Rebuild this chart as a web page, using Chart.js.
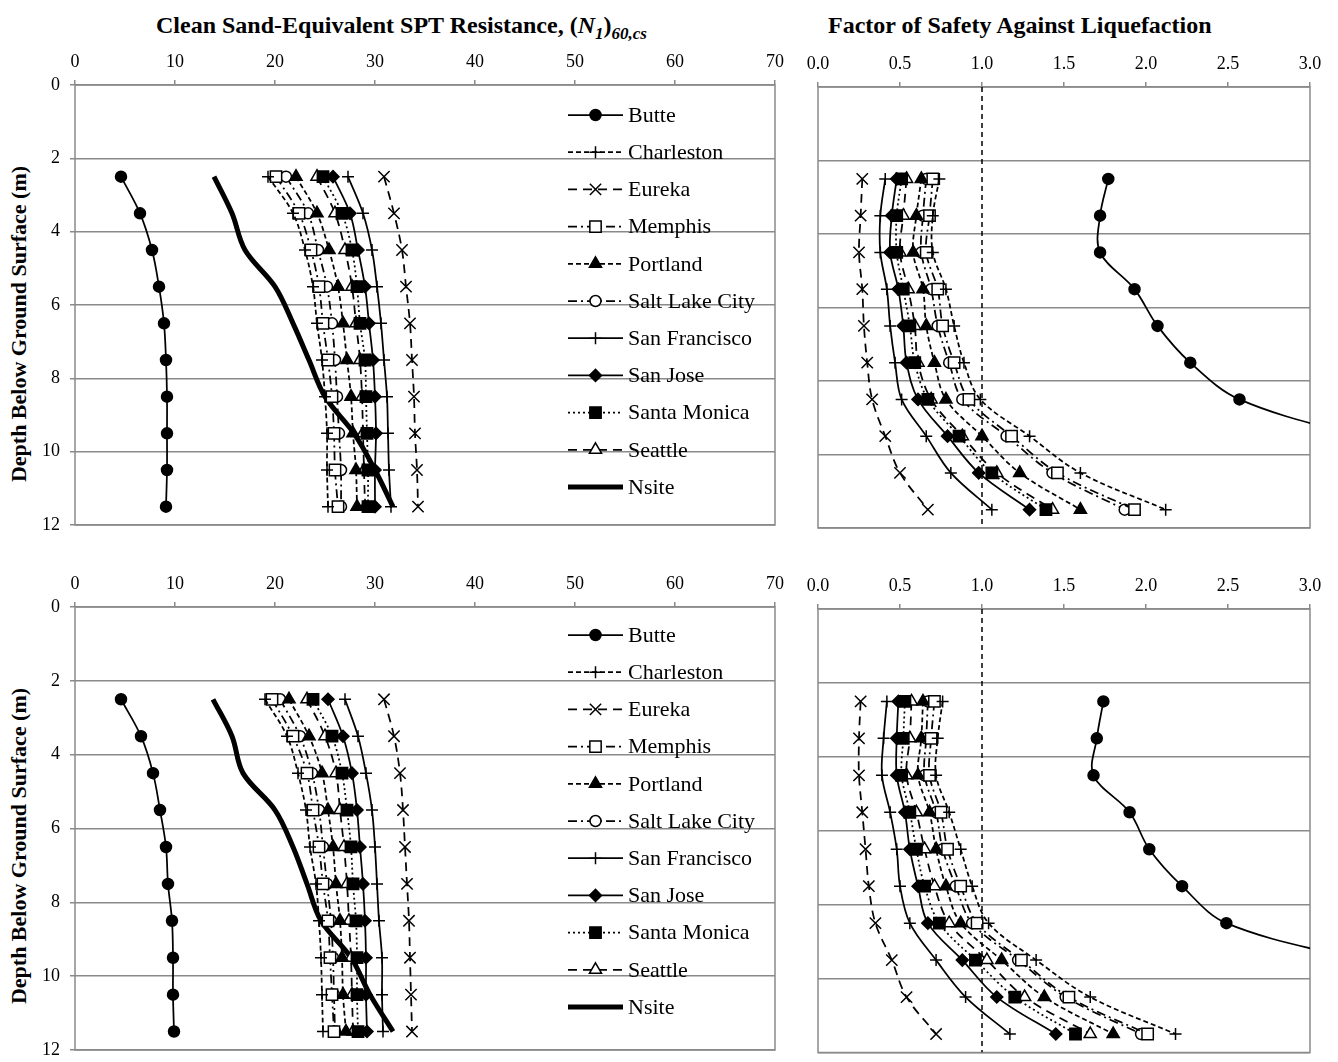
<!DOCTYPE html>
<html><head><meta charset="utf-8">
<script src="https://cdn.jsdelivr.net/npm/chart.js@4/dist/chart.umd.min.js"></script>
<style>
body{margin:0;background:#fff;width:1338px;height:1062px;overflow:hidden;position:relative;font-family:"Liberation Serif","Times New Roman",serif;}
canvas{position:absolute;}
.ttl{position:absolute;font-weight:bold;font-size:24px;white-space:nowrap;color:#000;line-height:28px;}
.ttl sub{font-size:17px;line-height:0;}
.ytl{position:absolute;font-weight:bold;font-size:22px;white-space:nowrap;color:#000;line-height:24px;width:400px;text-align:center;transform:translate(-50%,-50%) rotate(-90deg);}
</style></head><body>
<div class="ttl" style="left:156px;top:11px;">Clean Sand-Equivalent SPT Resistance, (<i>N</i><sub><i>1</i></sub>)<sub><i>60,cs</i></sub></div>
<div class="ttl" style="left:828px;top:11px;">Factor of Safety Against Liquefaction</div>
<div class="ytl" style="left:19px;top:324px;">Depth Below Ground Surface (m)</div>
<div class="ytl" style="left:19px;top:846px;">Depth Below Ground Surface (m)</div>
<canvas id="c1" width="790" height="540" style="left:0;top:0"></canvas>
<canvas id="c2" width="538" height="545" style="left:800px;top:0"></canvas>
<canvas id="c3" width="790" height="522" style="left:0;top:540px"></canvas>
<canvas id="c4" width="538" height="522" style="left:800px;top:540px"></canvas>
<script>
// ---------- DATA ----------
const depths = [2.5, 3.5, 4.5, 5.5, 6.5, 7.5, 8.5, 9.5, 10.5, 11.5];
const cities = ['Butte','Charleston','Eureka','Memphis','Portland','Salt Lake City','San Francisco','San Jose','Santa Monica','Seattle'];
const sptTicks = [0,10,20,30,40,50,60,70];
const fsTicks = [0.0,0.5,1.0,1.5,2.0,2.5,3.0];
const depthTicks = [0,2,4,6,8,10,12];
const fsLimit = [1, 1];
const fsLimitDepth = [0, 12];

// panel a) clean sand-equivalent SPT resistance
const sptA_Butte       = [4.6, 6.5, 7.7, 8.4, 8.9, 9.1, 9.2, 9.2, 9.2, 9.1];
const sptA_Charleston  = [19.3, 21.8, 23.0, 23.8, 24.2, 24.7, 25.0, 25.2, 25.2, 25.3];
const sptA_Eureka      = [30.9, 31.9, 32.7, 33.1, 33.5, 33.7, 33.9, 34.0, 34.2, 34.3];
const sptA_Memphis     = [20.1, 22.4, 23.6, 24.4, 24.8, 25.3, 25.7, 25.9, 26.0, 26.3];
const sptA_Portland    = [22.1, 24.2, 25.4, 26.3, 26.8, 27.2, 27.6, 27.8, 28.1, 28.2];
const sptA_SaltLake    = [21.1, 23.3, 24.3, 25.2, 25.7, 26.0, 26.2, 26.4, 26.6, 26.6];
const sptA_SanFran     = [27.3, 28.8, 29.7, 30.2, 30.6, 30.9, 31.2, 31.3, 31.4, 31.6];
const sptA_SanJose     = [25.8, 27.5, 28.3, 29.0, 29.4, 29.8, 30.0, 30.1, 30.0, 30.0];
const sptA_SantaMonica = [24.8, 26.7, 27.7, 28.2, 28.5, 29.0, 29.1, 29.2, 29.3, 29.3];
const sptA_Seattle     = [24.2, 26.0, 27.0, 27.7, 28.1, 28.5, 28.7, 28.8, 28.9, 29.0];
const sptA_Nsite       = [13.9, 15.7, 17.0, 20.0, 21.8, 23.4, 25.0, 27.9, 30.0, 31.8];

// panel a) factor of safety
const fsA_Butte       = [1.77, 1.72, 1.72, 1.93, 2.07, 2.27, 2.57, 3.3, 4.2, 5.3];
const fsA_Charleston  = [0.74, 0.70, 0.70, 0.78, 0.83, 0.89, 0.99, 1.29, 1.60, 2.12];
const fsA_Eureka      = [0.27, 0.26, 0.25, 0.27, 0.28, 0.30, 0.33, 0.41, 0.50, 0.67];
const fsA_Memphis     = [0.70, 0.68, 0.66, 0.73, 0.76, 0.83, 0.92, 1.18, 1.46, 1.93];
const fsA_Portland    = [0.63, 0.60, 0.58, 0.64, 0.66, 0.71, 0.78, 1.00, 1.23, 1.60];
const fsA_SaltLake    = [0.66, 0.64, 0.63, 0.69, 0.73, 0.80, 0.88, 1.15, 1.43, 1.87];
const fsA_SanFran     = [0.41, 0.38, 0.38, 0.42, 0.44, 0.47, 0.51, 0.66, 0.81, 1.06];
const fsA_SanJose     = [0.48, 0.45, 0.44, 0.49, 0.52, 0.54, 0.61, 0.79, 0.98, 1.29];
const fsA_SantaMonica = [0.51, 0.48, 0.48, 0.52, 0.56, 0.59, 0.67, 0.86, 1.06, 1.39];
const fsA_Seattle     = [0.54, 0.52, 0.50, 0.55, 0.59, 0.61, 0.69, 0.88, 1.09, 1.43];

// panel b) clean sand-equivalent SPT resistance
const sptB_Butte       = [4.6, 6.6, 7.8, 8.5, 9.1, 9.3, 9.7, 9.8, 9.8, 9.9];
const sptB_Charleston  = [19.0, 21.2, 22.3, 23.1, 23.5, 24.1, 24.4, 24.6, 24.7, 24.8];
const sptB_Eureka      = [30.9, 31.9, 32.5, 32.8, 33.0, 33.2, 33.4, 33.5, 33.6, 33.7];
const sptB_Memphis     = [19.7, 21.8, 23.2, 23.8, 24.4, 24.8, 25.3, 25.5, 25.7, 25.9];
const sptB_Portland    = [21.4, 23.4, 24.7, 25.3, 25.8, 26.1, 26.5, 26.7, 26.8, 27.1];
const sptB_SaltLake    = [20.5, 22.5, 23.7, 24.4, 24.8, 25.2, 25.6, 25.8, 25.9, 26.0];
const sptB_SanFran     = [27.0, 28.3, 29.1, 29.7, 30.0, 30.2, 30.4, 30.7, 30.7, 30.8];
const sptB_SanJose     = [25.3, 26.8, 27.7, 28.2, 28.5, 28.8, 29.0, 29.1, 29.1, 29.2];
const sptB_SantaMonica = [23.8, 25.7, 26.7, 27.2, 27.6, 27.8, 28.1, 28.2, 28.2, 28.3];
const sptB_Seattle     = [23.2, 25.0, 26.1, 26.5, 26.9, 27.2, 27.4, 27.6, 27.7, 27.8];
const sptB_Nsite       = [13.8, 15.7, 16.8, 20.0, 21.8, 23.2, 24.6, 27.6, 29.5, 31.8];

// panel b) factor of safety
const fsB_Butte       = [1.74, 1.70, 1.68, 1.90, 2.02, 2.22, 2.49, 3.3, 4.2, 5.3];
const fsB_Charleston  = [0.76, 0.73, 0.72, 0.80, 0.87, 0.94, 1.04, 1.33, 1.66, 2.18];
const fsB_Eureka      = [0.26, 0.25, 0.25, 0.27, 0.29, 0.31, 0.35, 0.45, 0.54, 0.72];
const fsB_Memphis     = [0.71, 0.69, 0.68, 0.75, 0.79, 0.87, 0.97, 1.24, 1.53, 2.01];
const fsB_Portland    = [0.64, 0.63, 0.61, 0.68, 0.72, 0.78, 0.87, 1.12, 1.38, 1.80];
const fsB_SaltLake    = [0.67, 0.66, 0.65, 0.72, 0.76, 0.84, 0.94, 1.22, 1.51, 1.97];
const fsB_SanFran     = [0.42, 0.40, 0.39, 0.44, 0.48, 0.50, 0.56, 0.72, 0.90, 1.17];
const fsB_SanJose     = [0.49, 0.48, 0.48, 0.53, 0.56, 0.61, 0.67, 0.88, 1.09, 1.45];
const fsB_SantaMonica = [0.53, 0.52, 0.51, 0.56, 0.60, 0.65, 0.74, 0.96, 1.20, 1.57];
const fsB_Seattle     = [0.57, 0.56, 0.54, 0.60, 0.65, 0.71, 0.80, 1.03, 1.26, 1.66];

// ---------- STYLES ----------
const FONT = '"Liberation Serif", "Times New Roman", serif';
Chart.defaults.font.family = FONT;
Chart.defaults.color = '#000';
const LW = 1.75;
const styles = [
  {borderDash: [], pointStyle: 'circle', pointRadius: 5.5, pointBackgroundColor: '#000'},
  {borderDash: [5,3], pointStyle: 'cross', pointRadius: 6, pointBackgroundColor: '#000'},
  {borderDash: [9,6], pointStyle: 'crossRot', pointRadius: 8, pointBackgroundColor: '#000'},
  {borderDash: [9,4,2,4], pointStyle: 'rect', pointRadius: 8, pointBackgroundColor: '#fff'},
  {borderDash: [5,3], pointStyle: 'triangle', pointRadius: 7, pointBackgroundColor: '#000'},
  {borderDash: [9,4,2,4], pointStyle: 'circle', pointRadius: 5.5, pointBackgroundColor: '#fff'},
  {borderDash: [], pointStyle: 'cross', pointRadius: 6, pointBackgroundColor: '#000'},
  {borderDash: [], pointStyle: 'rectRot', pointRadius: 6, pointBackgroundColor: '#000'},
  {borderDash: [2,3], pointStyle: 'rect', pointRadius: 8, pointBackgroundColor: '#000'},
  {borderDash: [9,6], pointStyle: 'triangle', pointRadius: 7, pointBackgroundColor: '#fff'}
];
const nsiteStyle = {borderDash: [], borderWidth: 5, pointRadius: 0};

function mkSeries(label, vals, st) {
  return Object.assign({
    label: label,
    data: depths.map((d, i) => ({x: vals[i], y: d})),
    borderColor: '#000', borderWidth: LW, pointBorderColor: '#000', pointBorderWidth: 1.5,
    pointHoverRadius: 0, tension: 0.35, fill: false
  }, st);
}
function buildSets(list, nsite) {
  const sets = list.map((vals, i) => mkSeries(cities[i], vals, styles[i]));
  if (nsite) sets.push(mkSeries('Nsite', nsite, nsiteStyle));
  return sets;
}
function fsLine() {
  return {label: 'FS = 1', data: fsLimit.map((v, i) => ({x: v, y: fsLimitDepth[i]})),
    borderColor: '#000', borderWidth: 1.5, borderDash: [5,4], pointRadius: 0, tension: 0, fill: false, noLegend: true};
}

// ---------- PLUGINS ----------
const boxPlugin = {
  id: 'box',
  beforeDatasetsDraw(chart) {
    const a = chart.chartArea, c = chart.ctx;
    c.save(); c.strokeStyle = '#8a8a8a'; c.lineWidth = 1.5;
    c.strokeRect(a.left, a.top, a.right - a.left, a.bottom - a.top);
    c.restore();
  }
};
const legendPlugin = {
  id: 'inLegend',
  afterDatasetsDraw(chart, args, opts) {
    if (!opts || !opts.show) return;
    const c = chart.ctx, a = chart.chartArea;
    const x0 = a.left + opts.dx;
    chart.data.datasets.filter(d => !d.noLegend).forEach((ds, i) => {
      const y = a.top + opts.dy + i * opts.gap;
      c.save();
      c.strokeStyle = ds.borderColor; c.lineWidth = ds.borderWidth;
      c.setLineDash(ds.borderDash || []);
      c.beginPath(); c.moveTo(x0, y); c.lineTo(x0 + opts.len, y); c.stroke();
      c.setLineDash([]);
      if (ds.pointRadius > 0) {
        c.fillStyle = ds.pointBackgroundColor; c.strokeStyle = ds.pointBorderColor; c.lineWidth = ds.pointBorderWidth;
        Chart.helpers.drawPoint(c, {pointStyle: ds.pointStyle, radius: ds.pointRadius, borderWidth: ds.pointBorderWidth, rotation: 0}, x0 + opts.len / 2, y);
      }
      c.fillStyle = '#000'; c.font = '22px ' + FONT; c.textBaseline = 'middle'; c.textAlign = 'left';
      c.fillText(ds.label, x0 + opts.len + 5, y + 1);
      c.restore();
    });
  }
};

function noPad(s) { s.paddingLeft = 0; s.paddingRight = 0; s.paddingTop = 0; s.paddingBottom = 0; }

function makeChart(id, datasets, isSpt, pad, legend) {
  const tickFont = {size: 18, family: FONT};
  const xTicks = isSpt ? sptTicks : fsTicks;
  return new Chart(document.getElementById(id), {
    type: 'line',
    data: {datasets: datasets},
    plugins: [boxPlugin, legendPlugin],
    options: {
      responsive: false, animation: false, devicePixelRatio: 1,
      layout: {padding: pad},
      plugins: {legend: {display: false}, tooltip: {enabled: false},
        inLegend: legend ? {show: true, dx: 493, dy: legend.dy, gap: 37.2, len: 55} : {show: false}},
      scales: {
        x: {type: 'linear', position: 'top', min: xTicks[0], max: xTicks[xTicks.length - 1],
          afterBuildTicks: s => { s.ticks = xTicks.map(v => ({value: v})); },
          ticks: {font: tickFont, color: '#000', padding: 7, maxRotation: 0,
            callback: v => isSpt ? String(v) : Number(v).toFixed(1)},
          grid: {drawOnChartArea: false, drawTicks: true, tickLength: 5, color: '#8a8a8a', lineWidth: 1.5},
          border: {display: false},
          afterFit: s => { s.height = 45; noPad(s); }},
        y: {type: 'linear', reverse: true, min: 0, max: 12,
          afterBuildTicks: s => { s.ticks = depthTicks.map(v => ({value: v})); },
          ticks: {display: isSpt, font: tickFont, color: '#000', padding: 10},
          grid: {color: '#8a8a8a', lineWidth: 1.5, drawTicks: isSpt, tickLength: 5},
          border: {display: false},
          afterFit: s => { s.width = isSpt ? 75 : 0; noPad(s); }}
      }
    }
  });
}

makeChart('c1', buildSets([sptA_Butte, sptA_Charleston, sptA_Eureka, sptA_Memphis, sptA_Portland, sptA_SaltLake, sptA_SanFran, sptA_SanJose, sptA_SantaMonica, sptA_Seattle], sptA_Nsite),
  true, {top: 40, bottom: 15, left: 0, right: 15}, {dy: 30});
makeChart('c2', [fsLine()].concat(buildSets([fsA_Butte, fsA_Charleston, fsA_Eureka, fsA_Memphis, fsA_Portland, fsA_SaltLake, fsA_SanFran, fsA_SanJose, fsA_SantaMonica, fsA_Seattle], null)),
  false, {top: 42, bottom: 17, left: 18, right: 28}, null);
makeChart('c3', buildSets([sptB_Butte, sptB_Charleston, sptB_Eureka, sptB_Memphis, sptB_Portland, sptB_SaltLake, sptB_SanFran, sptB_SanJose, sptB_SantaMonica, sptB_Seattle], sptB_Nsite),
  true, {top: 22, bottom: 12, left: 0, right: 15}, {dy: 28});
makeChart('c4', [fsLine()].concat(buildSets([fsB_Butte, fsB_Charleston, fsB_Eureka, fsB_Memphis, fsB_Portland, fsB_SaltLake, fsB_SanFran, fsB_SanJose, fsB_SantaMonica, fsB_Seattle], null)),
  false, {top: 24, bottom: 7, left: 18, right: 28}, null);
</script>
</body></html>
